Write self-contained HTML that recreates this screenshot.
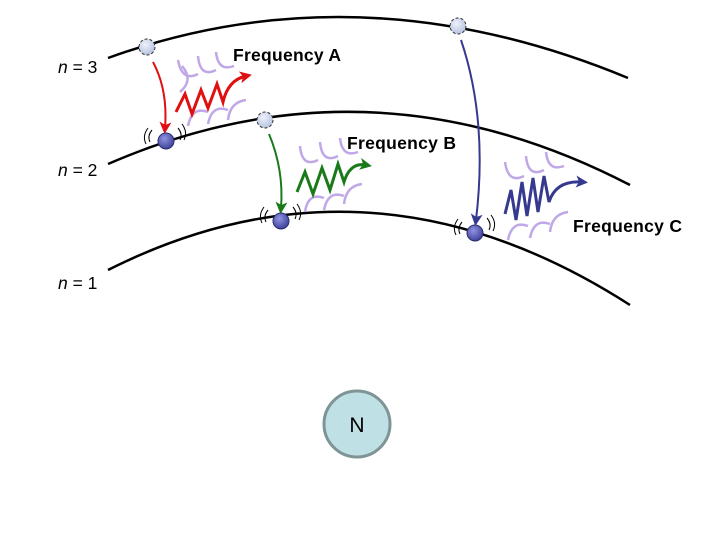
<!DOCTYPE html>
<html><head><meta charset="utf-8"><style>
html,body{margin:0;padding:0;background:#fff;}
svg{display:block;}
text{font-family:"Liberation Sans",Arial,sans-serif;}
</style></head><body>
<svg width="720" height="540" viewBox="0 0 720 540" xmlns="http://www.w3.org/2000/svg">
<defs>
<radialGradient id="lg" cx="40%" cy="35%" r="70%"><stop offset="0" stop-color="#eef2fa"/><stop offset="1" stop-color="#b4c0e0"/></radialGradient>
<radialGradient id="dg" cx="40%" cy="35%" r="70%"><stop offset="0" stop-color="#8f93e0"/><stop offset="1" stop-color="#3a3d96"/></radialGradient>
<marker id="ar" markerWidth="12" markerHeight="12" refX="6" refY="6" orient="auto" markerUnits="userSpaceOnUse"><path d="M0,0 L12,6 L0,12 L3,6Z" fill="#e01010"/></marker>
<marker id="ag" markerWidth="12" markerHeight="12" refX="6" refY="6" orient="auto" markerUnits="userSpaceOnUse"><path d="M0,0 L12,6 L0,12 L3,6Z" fill="#1a7a1a"/></marker>
<marker id="ab" markerWidth="12" markerHeight="12" refX="6" refY="6" orient="auto" markerUnits="userSpaceOnUse"><path d="M0,0 L12,6 L0,12 L3,6Z" fill="#353a8f"/></marker>
</defs>
<g fill="none" stroke="#000" stroke-width="2.5">
<path d="M108,58 Q360,-33 628,78"/>
<path d="M108,164 Q370,50 630,185"/>
<path d="M108,270 Q370,138 630,305"/>
</g>
<!-- purple arcs -->
<g fill="none" stroke="#c0a8e8" stroke-width="2.5">
<path d="M178,60 Q182,82 198,74"/><path d="M198,56 Q200,78 216,70"/><path d="M216,52 Q218,72 234,66"/>
<path d="M180,92 Q194,80 182,66"/>
<path d="M188,126 Q192,106 208,112"/><path d="M208,124 Q212,104 228,110"/><path d="M228,120 Q230,102 246,100"/>
<path d="M300,146 Q302,168 318,160"/><path d="M320,142 Q322,164 338,156"/><path d="M340,138 Q342,158 358,152"/>
<path d="M305,212 Q308,192 324,198"/><path d="M324,210 Q328,190 344,196"/><path d="M344,204 Q346,186 362,184"/>
<path d="M505,162 Q508,184 524,176"/><path d="M526,156 Q528,178 544,170"/><path d="M546,152 Q548,172 564,166"/>
<path d="M508,240 Q512,220 528,226"/><path d="M530,238 Q534,218 550,224"/><path d="M550,232 Q552,214 568,212"/>
</g>
<!-- transition arrows -->
<path d="M153,62 Q168,90 165,128" fill="none" stroke="#e01010" stroke-width="2" marker-end="url(#ar)"/>
<path d="M269,134 Q284,170 281,208" fill="none" stroke="#1a7a1a" stroke-width="2" marker-end="url(#ag)"/>
<path d="M461,40 Q488,120 476,220" fill="none" stroke="#353a8f" stroke-width="2" marker-end="url(#ab)"/>
<!-- waves -->
<path d="M176,112 L185,94 L192,114 L201,90 L208,108 L217,84 L223,102 Q228,80 246,76" fill="none" stroke="#e01010" stroke-width="3" marker-end="url(#ar)"/>
<path d="M297,192 L305,172 L313,194 L322,168 L330,190 L338,164 L344,182 Q350,162 366,165" fill="none" stroke="#1a7a1a" stroke-width="3" marker-end="url(#ag)"/>
<path d="M505,214 L511,190 L516,220 L522,182 L527,216 L533,178 L538,212 L544,176 L549,202 Q556,180 582,182" fill="none" stroke="#353a8f" stroke-width="3" marker-end="url(#ab)"/>
<!-- vibration marks -->
<g fill="none" stroke="#000" stroke-width="1">
<path d="M152,130 Q147,136 150,142"/><path d="M148,128 Q142,136 146,144"/><path d="M178,128 Q183,134 180,140"/><path d="M182,124 Q188,132 184,140"/>
<path d="M268,210 Q263,216 266,222"/><path d="M264,207 Q258,215 262,223"/><path d="M293,207 Q298,213 295,219"/><path d="M297,204 Q303,212 299,220"/>
<path d="M462,222 Q457,228 460,234"/><path d="M458,219 Q452,227 456,235"/><path d="M487,218 Q492,224 489,230"/><path d="M491,215 Q497,223 493,231"/>
</g>
<!-- electrons -->
<g stroke="#333" stroke-width="1" stroke-dasharray="3,2">
<circle cx="147" cy="47" r="8" fill="url(#lg)"/>
<circle cx="265" cy="120" r="8" fill="url(#lg)"/>
<circle cx="458" cy="26" r="8" fill="url(#lg)"/>
</g>
<g stroke="#2a2d70" stroke-width="1">
<circle cx="166" cy="141" r="8" fill="url(#dg)"/>
<circle cx="281" cy="221" r="8" fill="url(#dg)"/>
<circle cx="475" cy="233" r="8" fill="url(#dg)"/>
</g>
<circle cx="357" cy="424" r="33" fill="#bfe0e4" stroke="#7f9496" stroke-width="3"/>
<text x="357" y="432" font-size="21" text-anchor="middle">N</text>
<g font-size="17.5" font-weight="bold">
<text x="233" y="61" textLength="108">Frequency A</text>
<text x="347" y="149" textLength="109">Frequency B</text>
<text x="573" y="232" textLength="109">Frequency C</text>
</g>
<g font-size="17.5">
<text x="58" y="73"><tspan font-style="italic">n</tspan> = 3</text>
<text x="58" y="176"><tspan font-style="italic">n</tspan> = 2</text>
<text x="58" y="289"><tspan font-style="italic">n</tspan> = 1</text>
</g>
</svg>
</body></html>
